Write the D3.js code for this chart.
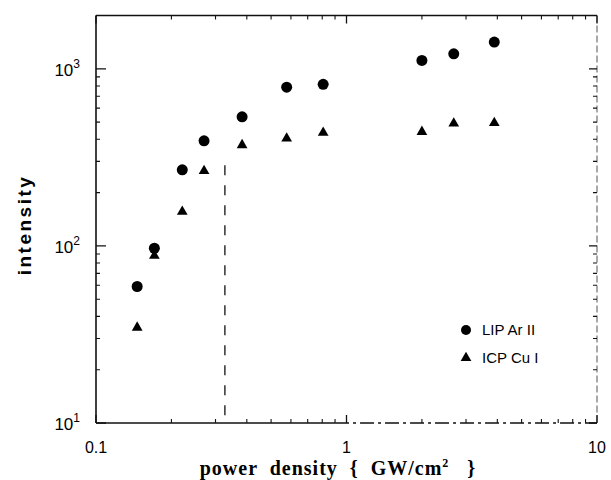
<!DOCTYPE html>
<html>
<head>
<meta charset="utf-8">
<script src="https://cdnjs.cloudflare.com/ajax/libs/d3/7.8.5/d3.min.js"></script>
<style>
  body { margin: 0; background: #fff; }
</style>
</head>
<body>
<svg id="chart" width="611" height="480"></svg>
<script>
// power density (GW/cm2) for every measurement
const powerDensity = [0.146, 0.171, 0.221, 0.27, 0.383, 0.577, 0.807, 2.0, 2.68, 3.89]
// LIP Ar II intensities (circles)
const lipArII = [59, 97, 269, 392, 536, 788, 817, 1115, 1215, 1415]
// ICP Cu I intensities (triangles)
const icpCuI = [34.6, 88, 156, 265, 371, 404, 436, 441, 491, 495]
// vertical dashed line
const dashX = [0.327]
const dashY = [285, 10]

const xTicks = [0.1, 1, 10]
const xTickLabels = ['0.1', '1', '10']
const yTicks = [10, 100, 1000]
const yTickExp = ['1', '2', '3']
const legendLabels = ['LIP Ar II', 'ICP Cu I']

const svg = d3.select('#chart')

const plotL = 96, plotR = 597, plotT = 15.5, plotB = 423

const x = d3.scaleLog().domain([0.1, 10]).range([plotL, plotR])
const y = d3.scaleLog().domain([10, 2000]).range([plotB, plotT])

// minor ticks: 2..9 in every decade
function minors (lo, hi) {
  const out = []
  for (let d = lo; d < hi; d *= 10) {
    for (let k = 2; k < 10; k++) {
      if (d * k <= hi) out.push(d * k)
    }
  }
  return out
}
const xMinor = minors(0.1, 10)
const yMinor = minors(10, 2000)

const axes = svg.append('g').attr('stroke', '#111').attr('fill', 'none')

// frame (the scanned original has a broken bottom-right edge)
axes.append('line').attr('x1', plotL).attr('x2', plotL).attr('y1', plotT).attr('y2', plotB).attr('stroke-width', 1.6)
axes.append('line').attr('x1', plotL).attr('x2', plotR).attr('y1', plotT).attr('y2', plotT).attr('stroke-width', 1.6)
axes.append('line').attr('x1', plotL).attr('x2', x(0.9)).attr('y1', plotB).attr('y2', plotB).attr('stroke-width', 1.4)
axes.append('line').attr('x1', x(0.9)).attr('x2', plotR).attr('y1', plotB).attr('y2', plotB)
  .attr('stroke-width', 1.4).attr('stroke-dasharray', '14,4,3,4')
axes.append('line').attr('x1', plotR).attr('x2', plotR).attr('y1', plotT).attr('y2', plotB)
  .attr('stroke-width', 1).attr('stroke', '#555').attr('stroke-dasharray', '7,3')

// bottom / top ticks
axes.selectAll('.xmaj').data(xTicks).enter().append('path')
  .attr('d', d => `M${x(d)},${plotB}v-8M${x(d)},${plotT}v8`).attr('stroke-width', 1.3)
axes.selectAll('.xmin').data(xMinor).enter().append('path')
  .attr('d', d => `M${x(d)},${plotB}v-4M${x(d)},${plotT}v4`).attr('stroke-width', 1.1)

// left / right ticks
axes.selectAll('.ymaj').data(yTicks).enter().append('path')
  .attr('d', d => `M${plotL},${y(d)}h10M${plotR},${y(d)}h-8`).attr('stroke-width', 1.3)
axes.selectAll('.ymin').data(yMinor).enter().append('path')
  .attr('d', d => `M${plotL},${y(d)}h4M${plotR},${y(d)}h-4`).attr('stroke-width', 1.1)

// tick labels
svg.selectAll('.xlab').data(xTicks).enter().append('text')
  .attr('x', d => x(d))
  .attr('y', 453)
  .attr('text-anchor', 'middle')
  .style('font-family', 'Liberation Sans, Arial, sans-serif')
  .style('font-size', '16px')
  .text((d, i) => xTickLabels[i])

const ylab = svg.selectAll('.ylab').data(yTicks).enter().append('text')
  .attr('x', 80)
  .attr('y', d => y(d) + 7)
  .attr('text-anchor', 'end')
  .style('font-family', 'Liberation Sans, Arial, sans-serif')
  .style('font-size', '17px')
ylab.append('tspan').text('10')
ylab.append('tspan').attr('dy', -8).style('font-size', '12px').text((d, i) => yTickExp[i])

// dashed vertical line
svg.append('line')
  .attr('x1', x(dashX[0])).attr('x2', x(dashX[0]))
  .attr('y1', y(dashY[0])).attr('y2', y(dashY[1]))
  .attr('stroke', '#222')
  .attr('stroke-width', 1.4)
  .attr('stroke-dasharray', '10,10')

// the two series
const tri = d3.symbol().type(d3.symbolTriangle).size(50)

svg.selectAll('.circ').data(powerDensity).enter().append('circle')
  .attr('cx', d => x(d))
  .attr('cy', (d, i) => y(lipArII[i]))
  .attr('r', 5.5)
  .attr('fill', '#000')

svg.selectAll('.tri').data(powerDensity).enter().append('path')
  .attr('d', tri)
  .attr('transform', (d, i) => `translate(${x(d)},${y(icpCuI[i])})`)
  .attr('fill', '#000')

// legend
const legend = svg.append('g').attr('transform', 'translate(466,330)')
legend.append('circle').attr('cx', 0).attr('cy', 0).attr('r', 5).attr('fill', '#000')
legend.append('path').attr('d', tri).attr('transform', 'translate(0,28)').attr('fill', '#000')
legend.selectAll('text').data(legendLabels).enter().append('text')
  .attr('x', 16)
  .attr('y', (d, i) => 5 + i * 28)
  .style('font-family', 'Liberation Sans, Arial, sans-serif')
  .style('font-size', '15px')
  .text(d => d)

// axis titles
svg.append('text')
  .attr('transform', 'translate(31,225) rotate(-90)')
  .attr('text-anchor', 'middle')
  .style('font-family', 'Liberation Sans, Arial, sans-serif')
  .style('font-size', '19px')
  .style('font-weight', 'bold')
  .style('letter-spacing', '2.5px')
  .text('intensity')

const xt = svg.append('text')
  .attr('x', 338)
  .attr('y', 475)
  .attr('text-anchor', 'middle')
  .style('font-family', 'Liberation Serif, Times New Roman, serif')
  .style('font-size', '20px')
  .style('font-weight', 'bold')
  .style('letter-spacing', '1px')
  .attr('xml:space', 'preserve')
xt.append('tspan').text('power  density  {  GW/cm')
xt.append('tspan').attr('dy', -8).style('font-size', '12px').text('2')
xt.append('tspan').attr('dy', 8).text('   }')
</script>
</body>
</html>
